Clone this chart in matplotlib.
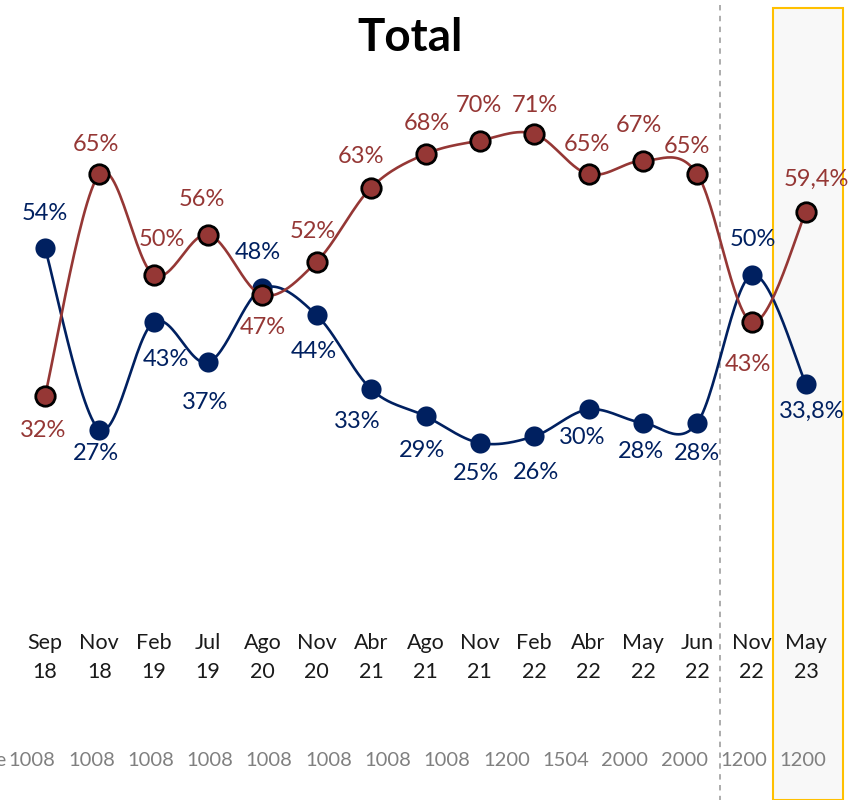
import numpy as np
import matplotlib
matplotlib.use("Agg")
import matplotlib.pyplot as plt
from matplotlib.patches import Rectangle

plt.rcParams['font.family'] = ['Lato', 'DejaVu Sans']

# ---- data ----
months = ["Sep", "Nov", "Feb", "Jul", "Ago", "Nov", "Abr", "Ago", "Nov", "Feb",
          "Abr", "May", "Jun", "Nov", "May"]
years = ["18", "18", "19", "19", "20", "20", "21", "21", "21", "22",
         "22", "22", "22", "22", "23"]
red_vals = [32, 65, 50, 56, 47, 52, 63, 68, 70, 71, 65, 67, 65, 43, 59.4]
red_labels = ["32%", "65%", "50%", "56%", "47%", "52%", "63%", "68%", "70%", "71%",
              "65%", "67%", "65%", "43%", "59,4%"]
blue_vals = [54, 27, 43, 37, 48, 44, 33, 29, 25, 26, 30, 28, 28, 50, 33.8]
blue_labels = ["54%", "27%", "43%", "37%", "48%", "44%", "33%", "29%", "25%", "26%",
               "30%", "28%", "28%", "50%", "33,8%"]
base_sizes = ["1008", "1008", "1008", "1008", "1008", "1008", "1008", "1008",
              "1200", "1504", "2000", "2000", "1200", "1200"]

# ---- style ----
RED = "#953735"
BLUE = "#002060"
# label offsets in pixels (dx, dy), dy > 0 means above the point
red_off = [(-2, -35), (-3, 30), (8, 35), (-6, 35), (0, -32), (-4, 30), (-10, 31), (1, 31),
           (-1, 35), (1, 28), (-2, 30), (-4, 35), (-10, 28), (-4, -42), (10, 32)]
blue_off = [(0, 35), (-3, -24), (12, -37), (-3, -40), (-5, 36), (-3, -36), (-14, -32), (-4, -34),
            (-4, -31), (2, -36), (-6, -28), (-2, -29), (0, -31), (1, 36), (6, -27)]

W, H = 859, 800
fig = plt.figure(figsize=(W / 100, H / 100), dpi=100)
ax = fig.add_axes([0, 0, 1, 1])
x0_px, dx_px = 45.0, (806 - 45) / 14
y0_px, dy_px = 611.0, 6.72
ax.set_xlim(-x0_px / dx_px, (W - x0_px) / dx_px)
ax.set_ylim((y0_px - H) / dy_px, y0_px / dy_px)
ax.axis("off")


def px_to_x(p):
    return (p - x0_px) / dx_px


def py_to_y(p):
    return (y0_px - p) / dy_px


# highlight box and divider
ax.add_patch(Rectangle((px_to_x(773), py_to_y(800)), px_to_x(843) - px_to_x(773),
                       py_to_y(8) - py_to_y(800), facecolor="#F8F8F8",
                       edgecolor="#FFC000", linewidth=1.5, zorder=0))
ax.plot([px_to_x(720)] * 2, [py_to_y(5), py_to_y(800)], color="#A6A6A6",
        linestyle=(0, (3, 3)), linewidth=1.3, zorder=0)


def smooth(xs, ys, n=30):
    P = np.column_stack([xs, ys]).astype(float)
    out = []
    for i in range(len(P) - 1):
        p0 = P[i - 1] if i > 0 else P[i]
        p1, p2 = P[i], P[i + 1]
        p3 = P[i + 2] if i + 2 < len(P) else P[i + 1]
        c1 = p1 + (p2 - p0) / 6
        c2 = p2 - (p3 - p1) / 6
        t = np.linspace(0, 1, n)[:, None]
        seg = ((1 - t) ** 3) * p1 + 3 * ((1 - t) ** 2) * t * c1 + 3 * (1 - t) * t ** 2 * c2 + t ** 3 * p2
        out.append(seg if i == 0 else seg[1:])
    S = np.vstack(out)
    return S[:, 0], S[:, 1]


xs = np.arange(len(months))

bx, by = smooth(xs, blue_vals)
ax.plot(bx, by, color=BLUE, lw=1.9, zorder=2)
ax.plot(xs, blue_vals, "o", color=BLUE, ms=14.5, mec=BLUE, mew=0, zorder=3)

rx, ry = smooth(xs, red_vals)
ax.plot(rx, ry, color=RED, lw=1.9, zorder=4)
ax.plot(xs, red_vals, "o", color=RED, ms=14, mec="black", mew=2, zorder=5)

lbl_size = 17
for i, (v, t) in enumerate(zip(blue_vals, blue_labels)):
    ox, oy = blue_off[i]
    ax.annotate(t, (xs[i], v), xytext=(ox * 0.72, oy * 0.72), textcoords="offset points",
                ha="center", va="center", color=BLUE, fontsize=lbl_size, zorder=6)
for i, (v, t) in enumerate(zip(red_vals, red_labels)):
    ox, oy = red_off[i]
    ax.annotate(t, (xs[i], v), xytext=(ox * 0.72, oy * 0.72), textcoords="offset points",
                ha="center", va="center", color=RED, fontsize=lbl_size, zorder=6)

# category labels
for i, (m, y) in enumerate(zip(months, years)):
    ax.text(xs[i], py_to_y(643), m, ha="center", va="center", fontsize=15.5, color="#1a1a1a")
    ax.text(xs[i], py_to_y(672), y, ha="center", va="center", fontsize=15.5, color="#1a1a1a")

# base row
base_x = [32 + 59.3 * i for i in range(len(base_sizes))]
for bxp, s in zip(base_x, base_sizes):
    fig.text(bxp / W, 1 - 760 / H, s, ha="center", va="center", fontsize=14.5, color="#808080")
fig.text(6 / W, 1 - 760 / H, "Base", ha="right", va="center", fontsize=14.5, color="#808080")

fig.text(410 / W, 1 - 38 / H, "Total", ha="center", va="center", fontsize=33,
         fontweight="bold", color="black")

fig.savefig("out.png", dpi=100)
